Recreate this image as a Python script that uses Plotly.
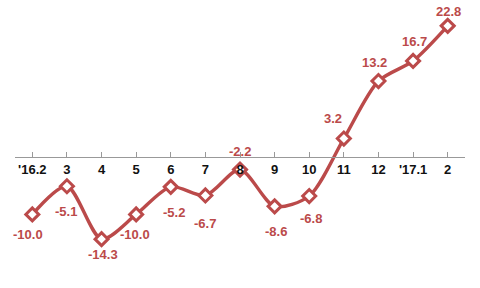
import plotly.graph_objects as go

categories = ["'16.2", "3", "4", "5", "6", "7", "8", "9", "10", "11", "12", "'17.1", "2"]
values = [-10.0, -5.1, -14.3, -10.0, -5.2, -6.7, -2.2, -8.6, -6.8, 3.2, 13.2, 16.7, 22.8]

# label offsets in pixels (dx, dy) relative to each marker
label_dx = [-4, -1, 1, -1, 3, 0, 0, 1, 2, -11, -4, 1, 1]
label_dy = [-20, -25, -15, -20, -26, -28, 18, -25, -22, 20, 19, 19, 14]

RED = "#bb4a4a"
ymin, ymax = -22.8, 27.3

fig = go.Figure()
x_idx = list(range(len(categories)))
fig.add_trace(go.Scatter(
    x=x_idx, y=values, mode="lines+markers",
    line=dict(color=RED, width=3.4, shape="spline", smoothing=0.8),
    marker=dict(symbol="diamond", size=10, color="white", line=dict(color=RED, width=3)),
    hoverinfo="skip", showlegend=False,
))

for i, v in enumerate(values):
    fig.add_annotation(
        x=i, y=v, text=f"<b>{v:.1f}</b>", showarrow=False,
        xshift=label_dx[i], yshift=label_dy[i],
        font=dict(family="Arial, Liberation Sans", size=13, color=RED),
    )

fig.update_layout(
    width=480, height=288,
    margin=dict(l=15, r=15, t=0, b=0),
    paper_bgcolor="white", plot_bgcolor="white",
    xaxis=dict(
        range=[-0.5, len(categories) - 0.5],
        tickmode="array", tickvals=x_idx, ticktext=[f"<b>{c}</b>" for c in categories],
        tickson="boundaries", ticks="inside", ticklen=5, tickcolor="#999999",
        showline=True, linecolor="#999999", linewidth=1,
        showgrid=False, zeroline=False,
        anchor="free", position=(0 - ymin) / (ymax - ymin),
        tickfont=dict(family="Arial, Liberation Sans", size=13, color="#111111"),
    ),
    yaxis=dict(range=[ymin, ymax], visible=False, showgrid=False, zeroline=False),
)

fig.write_html("out.html")
